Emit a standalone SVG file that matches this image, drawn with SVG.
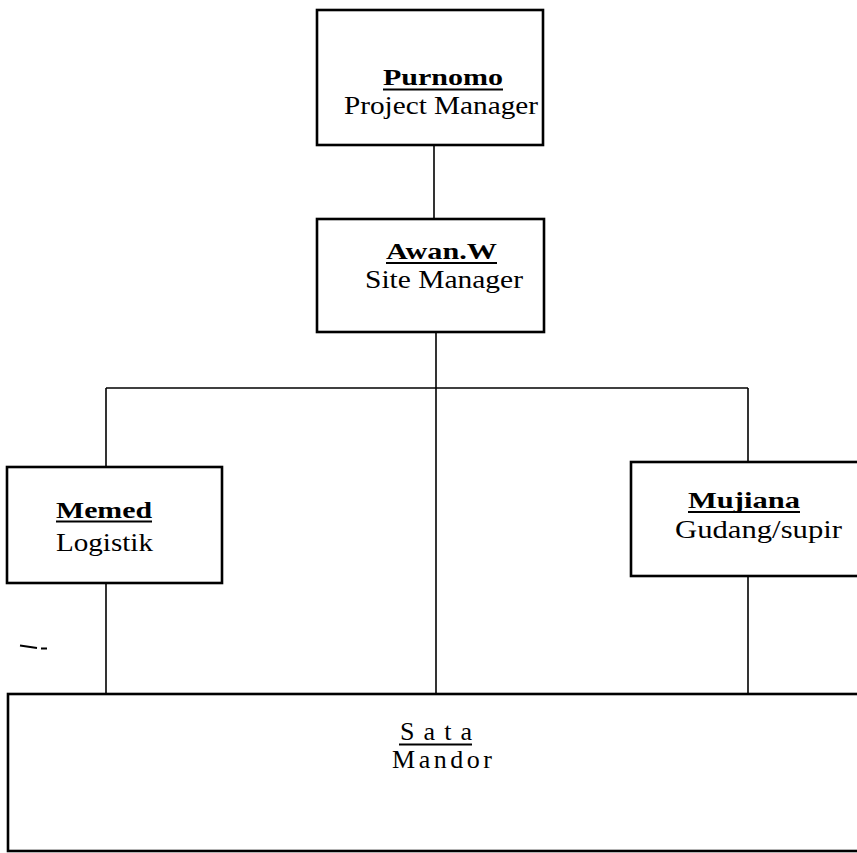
<svg xmlns="http://www.w3.org/2000/svg" width="857" height="853" viewBox="0 0 857 853">
<style>
.box{fill:#fff;stroke:#000;stroke-width:2.6}
.ln{fill:none;stroke:#000;stroke-width:1.6}
.ul{fill:none;stroke:#000;stroke-width:1.8}
.nm{font-family:"Liberation Serif","Times New Roman",serif;font-weight:bold;font-size:24px;fill:#000}
.rl{font-family:"Liberation Serif","Times New Roman",serif;font-size:26px;fill:#000}
</style>
<rect width="857" height="853" fill="#fff"/>
<g id="connectors">
<line class="ln" x1="434" y1="145" x2="434" y2="219"/>
<line class="ln" x1="436" y1="332" x2="436" y2="694"/>
<line class="ln" x1="106" y1="388" x2="748" y2="388"/>
<line class="ln" x1="106" y1="388" x2="106" y2="467"/>
<line class="ln" x1="106" y1="583" x2="106" y2="694"/>
<line class="ln" x1="748" y1="388" x2="748" y2="462"/>
<line class="ln" x1="748" y1="576" x2="748" y2="694"/>
</g>
<g id="purnomo">
<rect class="box" x="317" y="10" width="226" height="135"/>
<text class="nm" x="383" y="85" textLength="120" lengthAdjust="spacingAndGlyphs">Purnomo</text>
<line class="ul" x1="383" y1="89.5" x2="503" y2="89.5"/>
<text class="rl" x="344" y="114" textLength="194" lengthAdjust="spacingAndGlyphs">Project Manager</text>
</g>
<g id="awan">
<rect class="box" x="317" y="219" width="227" height="113"/>
<text class="nm" x="386" y="259" textLength="111" lengthAdjust="spacingAndGlyphs">Awan.W</text>
<line class="ul" x1="386" y1="263" x2="497" y2="263"/>
<text class="rl" x="365" y="288" textLength="158" lengthAdjust="spacingAndGlyphs">Site Manager</text>
</g>
<g id="memed">
<rect class="box" x="7" y="467" width="215" height="116"/>
<text class="nm" x="56" y="518" textLength="96" lengthAdjust="spacingAndGlyphs">Memed</text>
<line class="ul" x1="56" y1="521.5" x2="152" y2="521.5"/>
<text class="rl" x="56" y="551" textLength="97" lengthAdjust="spacingAndGlyphs">Logistik</text>
</g>
<g id="mujiana">
<rect class="box" x="631" y="462" width="240" height="114"/>
<text class="nm" x="688" y="508" textLength="112" lengthAdjust="spacingAndGlyphs">Mujiana</text>
<line class="ul" x1="688" y1="512" x2="800" y2="512"/>
<text class="rl" x="675" y="538" textLength="167" lengthAdjust="spacingAndGlyphs">Gudang/supir</text>
</g>
<g id="sata">
<rect class="box" x="8" y="694" width="870" height="157"/>
<text class="rl" x="400" y="740" textLength="72" lengthAdjust="spacing">Sata</text>
<line class="ul" x1="399" y1="744.5" x2="472" y2="744.5"/>
<text class="rl" x="392" y="768" textLength="100" lengthAdjust="spacing">Mandor</text>
</g>
<path d="M20 645.5 L37 648 M41 648.5 L47 648.5" fill="none" stroke="#000" stroke-width="1.8"/>
</svg>
